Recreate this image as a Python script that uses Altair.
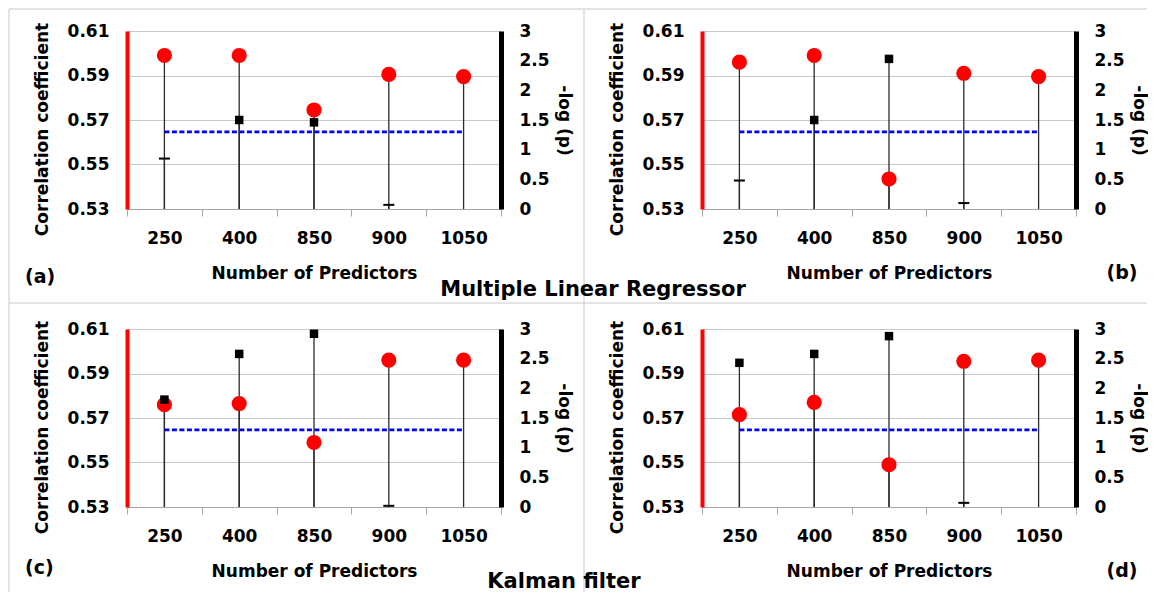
import altair as alt
import pandas as pd

# ---------------- data ----------------
predictors = ["250", "400", "850", "900", "1050"]

corr_a = [0.599, 0.599, 0.5745, 0.5905, 0.5895]
logp_a = [0.85, 1.50, 1.46, 0.07, None]

corr_b = [0.596, 0.599, 0.5435, 0.591, 0.5895]
logp_b = [0.48, 1.50, 2.53, 0.10, None]

corr_c = [0.576, 0.5765, 0.559, 0.596, 0.596]
logp_c = [1.81, 2.58, 2.92, 0.02, None]

corr_d = [0.5715, 0.577, 0.549, 0.5955, 0.596]
logp_d = [2.43, 2.58, 2.88, 0.07, None]

threshold = 1.3  # -log10(0.05)
corr_ticks = [0.53, 0.55, 0.57, 0.59, 0.61]
logp_ticks = [0, 0.5, 1, 1.5, 2, 2.5, 3]

FONT = "DejaVu Sans"
W, H = 374, 178

x_axis = alt.Axis(
    title="Number of Predictors", tickBand="extent", ticks=True, tickSize=7,
    tickColor="#a6a6a6", domainColor="#a6a6a6", domainWidth=1, grid=False,
    labelAngle=0, labelFont=FONT, labelFontSize=17, labelFontWeight="bold",
    labelColor="#000000", labelPadding=14, titleFont=FONT, titleFontSize=17,
    titleFontWeight="bold", titleColor="#000000", titleY=69,
    titleBaseline="alphabetic",
)
x_enc = alt.X("n:N", sort=predictors,
              scale=alt.Scale(type="band", paddingInner=0, paddingOuter=0),
              axis=x_axis)

left_scale = alt.Scale(domain=[corr_ticks[0], corr_ticks[-1]], zero=False, nice=False)
right_scale = alt.Scale(domain=[logp_ticks[0], logp_ticks[-1]], zero=False, nice=False)

left_axis = alt.Axis(
    orient="left", values=corr_ticks, format=".2f", domainColor="#ff0000",
    domainWidth=4, ticks=False, tickSize=0, labelPadding=18, labelFlush=False,
    grid=True, gridColor="#c8c8c8", gridWidth=1, labelFont=FONT,
    labelFontSize=17, labelFontWeight="bold", labelColor="#000000",
    title="Correlation coefficient", titleAngle=-90, titleX=-80, titleY=98,
    titleAlign="center", titleBaseline="alphabetic", titleFont=FONT,
    titleFontSize=17, titleFontWeight="bold", titleColor="#000000",
)
right_axis = alt.Axis(
    orient="right", values=logp_ticks, format="~g", domainColor="#000000",
    domainWidth=5, ticks=False, tickSize=0, labelPadding=18, labelFlush=False,
    grid=False, labelFont=FONT, labelFontSize=17, labelFontWeight="bold",
    labelColor="#000000", title="-log (p)", titleAngle=90, titleX=62,
    titleY=89, titleAlign="center", titleBaseline="middle", titleFont=FONT,
    titleFontSize=17, titleFontWeight="bold", titleColor="#000000",
)

one = pd.DataFrame({"k": [0]})
FRAME = "#c8c8c8"


def hrule(x1, x2, y):
    return alt.Chart(one).mark_rule(color=FRAME, strokeWidth=1).encode(
        x=alt.value(x1), x2=alt.value(x2), y=alt.value(y), y2=alt.value(y))


def vrule(x, y1, y2):
    return alt.Chart(one).mark_rule(color=FRAME, strokeWidth=1).encode(
        x=alt.value(x), x2=alt.value(x), y=alt.value(y1), y2=alt.value(y2))


def label(text, x, y, align, size):
    return alt.Chart(one).mark_text(
        align=align, baseline="middle", font=FONT, fontSize=size,
        fontWeight="bold", color="#000000").encode(
        x=alt.value(x), y=alt.value(y), text=alt.value(text))


def panel(corr, logp, deco):
    df = pd.DataFrame({"n": predictors, "corr": corr, "logp": logp})
    df["floor_c"] = corr_ticks[0]
    dfp = df.dropna(subset=["logp"]).copy()
    dfp["floor_p"] = logp_ticks[0]
    dfp["kind"] = ["sig" if v > threshold else "ns" for v in dfp["logp"]]
    dft = pd.DataFrame({"n": [predictors[0], predictors[-1]], "thr": [threshold, threshold]})

    stem_p = alt.Chart(dfp).mark_rule(color="#2b2b2b", strokeWidth=1.3).encode(
        x=x_enc, y=alt.Y("floor_p:Q", scale=right_scale, axis=right_axis), y2="logp:Q")
    right_back = alt.layer(stem_p)

    stem_c = alt.Chart(df).mark_rule(color="#2b2b2b", strokeWidth=1.3).encode(
        x=x_enc, y=alt.Y("floor_c:Q", scale=left_scale, axis=left_axis), y2="corr:Q")
    circles = alt.Chart(df).mark_circle(size=230, color="#ff0000", opacity=1).encode(
        x=x_enc, y=alt.Y("corr:Q", scale=left_scale, axis=left_axis))
    left = alt.layer(stem_c, circles)

    blue = alt.Chart(dft).mark_line(color="#0000ff", strokeWidth=2.6, strokeDash=[5, 2.5]).encode(
        x=x_enc, y=alt.Y("thr:Q", scale=right_scale, axis=None))
    squares = alt.Chart(dfp).transform_filter(alt.datum.kind == "sig").mark_square(
        size=72, color="#000000", opacity=1).encode(
        x=x_enc, y=alt.Y("logp:Q", scale=right_scale, axis=None))
    dashes = alt.Chart(dfp).transform_filter(alt.datum.kind == "ns").mark_tick(
        color="#000000", size=11, thickness=2, opacity=1).encode(
        x=x_enc, y=alt.Y("logp:Q", scale=right_scale, axis=None))
    right_front = alt.layer(blue, squares, dashes)

    return alt.layer(alt.layer(*deco), right_back, left, right_front).resolve_scale(
        y="independent").properties(width=W, height=H)


deco_a = [
    hrule(-118, 1020, -22), vrule(-118, -22, 561), vrule(457, -22, 561),
    hrule(-118, 1020, 272),
    label("(a)", -102, 246, "left", 19),
    label("Multiple Linear Regressor", 466, 259, "center", 21),
]
deco_b = [label("(b)", 420, 242, "center", 19)]
deco_c = [
    label("(c)", -102, 239, "left", 19),
    label("Kalman filter", 437, 253, "center", 21),
]
deco_d = [label("(d)", 420, 242, "center", 19)]

pa = panel(corr_a, logp_a, deco_a)
pb = panel(corr_b, logp_b, deco_b)
pc = panel(corr_c, logp_c, deco_c)
pd_ = panel(corr_d, logp_d, deco_d)

chart = alt.concat(
    pa, pb, pc, pd_, columns=2,
    spacing=alt.RowColnumber(row=120, column=201), bounds="flush",
).properties(padding=0, background="#ffffff").configure_view(strokeWidth=0)

chart.save("out.html", embed_options={"renderer": "svg", "actions": False})
